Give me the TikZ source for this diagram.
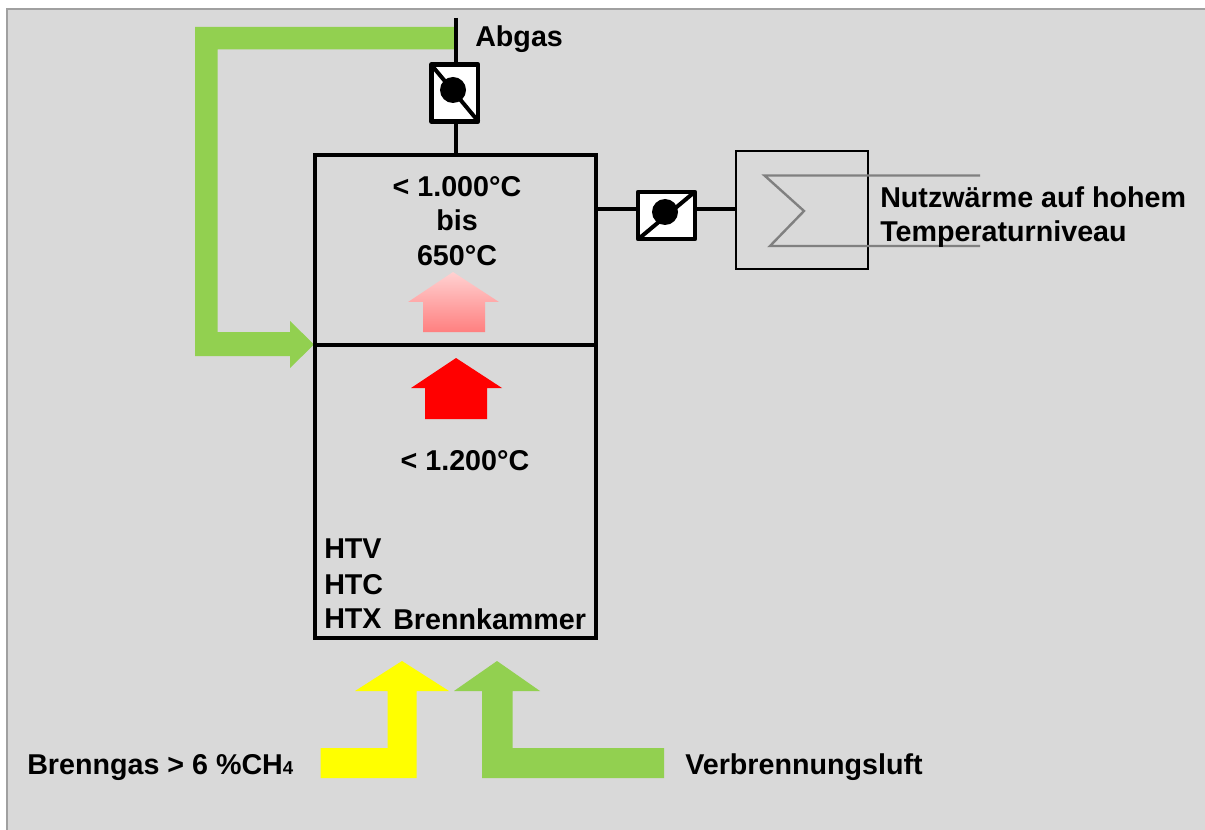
\documentclass[tikz,border=0pt]{standalone}
\usepackage{fontspec}
\setmainfont{Liberation Sans}
\definecolor{panel}{HTML}{D9D9D9}
\definecolor{frame}{HTML}{A0A0A0}
\definecolor{luft}{HTML}{92D050}
\definecolor{gas}{HTML}{FFFF00}
\tikzset{
  tag/.style={inner sep=0pt, anchor=base west, font=\bfseries\fontsize{21.5}{26}\selectfont},
  chamber/.style={draw=black, line width=3pt, minimum width=210.4pt, inner sep=0pt},
  valve/.style={draw=black, fill=white, line width=3.2pt, inner sep=0pt, line join=round},
  hub/.style={circle, fill=black, inner sep=0pt, minimum size=19.5pt},
  pipe/.style={line width=3pt}
}
\begin{document}
\begin{tikzpicture}[x=0.75pt,y=-0.75pt]
\useasboundingbox (0,0) rectangle (1205,830);
\fill[panel] (7,9) rectangle (1205,830);
\draw[frame, line width=1.5pt] (7,830) -- (7,9) -- (1205,9);
% fat arrows
\fill[luft] (455,27) -- (195,27) -- (195,356) -- (290,356) -- (290,368) -- (314,344.5) -- (290,321) -- (290,332) -- (217.5,332) -- (217.5,49.5) -- (455,49.5) -- cycle;
\fill[gas] (320.5,778) -- (320.5,748) -- (387.5,748) -- (387.5,691) -- (355,691) -- (402,661) -- (449,691) -- (416.5,691) -- (416.5,778) -- cycle;
\fill[luft] (664,778) -- (664,748) -- (512.5,748) -- (512.5,691) -- (540,691) -- (497,661) -- (454,691) -- (482,691) -- (482,778) -- cycle;
\fill[red] (425,419) -- (425,388) -- (411,388) -- (456,358) -- (502,388) -- (487,388) -- (487,419) -- cycle;
\shade[top color=red!18!white, bottom color=red!50!white] (423,332) -- (423,302) -- (408,302) -- (453,272) -- (499,302) -- (485,302) -- (485,332) -- cycle;
% chambers
\node[chamber, minimum height=141.75pt] (upperchamber) at (455.25,250) {};
\node[chamber, minimum height=220.1pt] (lowerchamber) at (455.25,491.25) {};
% valves
\node[valve, minimum width=35pt, minimum height=42.75pt] (valveA) at (454.75,93) {};
\node[valve, minimum width=42.75pt, minimum height=35.25pt] (valveB) at (666.5,215.5) {};
\draw[pipe, shorten >=2pt, shorten <=2pt] (valveA.north west) -- (valveA.south east);
\draw[pipe, shorten >=2pt, shorten <=2pt] (valveB.south west) -- (valveB.north east);
\node[hub] (hubA) at (453,90) {};
\node[hub] (hubB) at (665,212) {};
% heat exchanger
\node[draw=black, line width=1.5pt, minimum width=99pt, minimum height=88pt, inner sep=0pt] (hx) at (801.5,210) {};
\coordinate (portB) at (666,209);
\coordinate (stackend) at (455.5,18);
\draw[pipe] (stackend) -- (stackend |- valveA.north);
\draw[pipe] (stackend |- valveA.south) -- (stackend |- upperchamber.north);
\draw[pipe] (upperchamber.east |- portB) -- (valveB.west |- portB);
\draw[pipe] (valveB.east |- portB) -- (hx.west |- portB);
\draw[color=gray, line width=1.8pt] (980,175.5) -- (764.5,175.5) -- (804,211) -- (770,246) -- (980,246);
% texts
\node[tag] (abgas) at (475,47) {Abgas};
\node[tag, anchor=center, align=center] (tempupper) at (457,221) {< 1.000°C\\bis\\650°C};
\node[tag, anchor=base] (templower) at (465,470) {< 1.200°C};
\foreach \name/\ypos in {HTV/558,HTC/594,HTX/628}
\node[tag] (tag\name) at (324,\ypos) {\name};
\node[tag] (brennkammer) at (393,629) {Brennkammer};
\node[tag] (nutz) at (880,208) {Nutzwärme auf hohem};
\node[tag] (temp) at (880,242) {Temperaturniveau};
\node[tag] (brenngas) at (27,774) {Brenngas > 6 \%CH{\fontsize{14}{14}\selectfont 4}};
\node[tag] (verbrennung) at (685,774) {Verbrennungsluft};
\end{tikzpicture}
\end{document}
